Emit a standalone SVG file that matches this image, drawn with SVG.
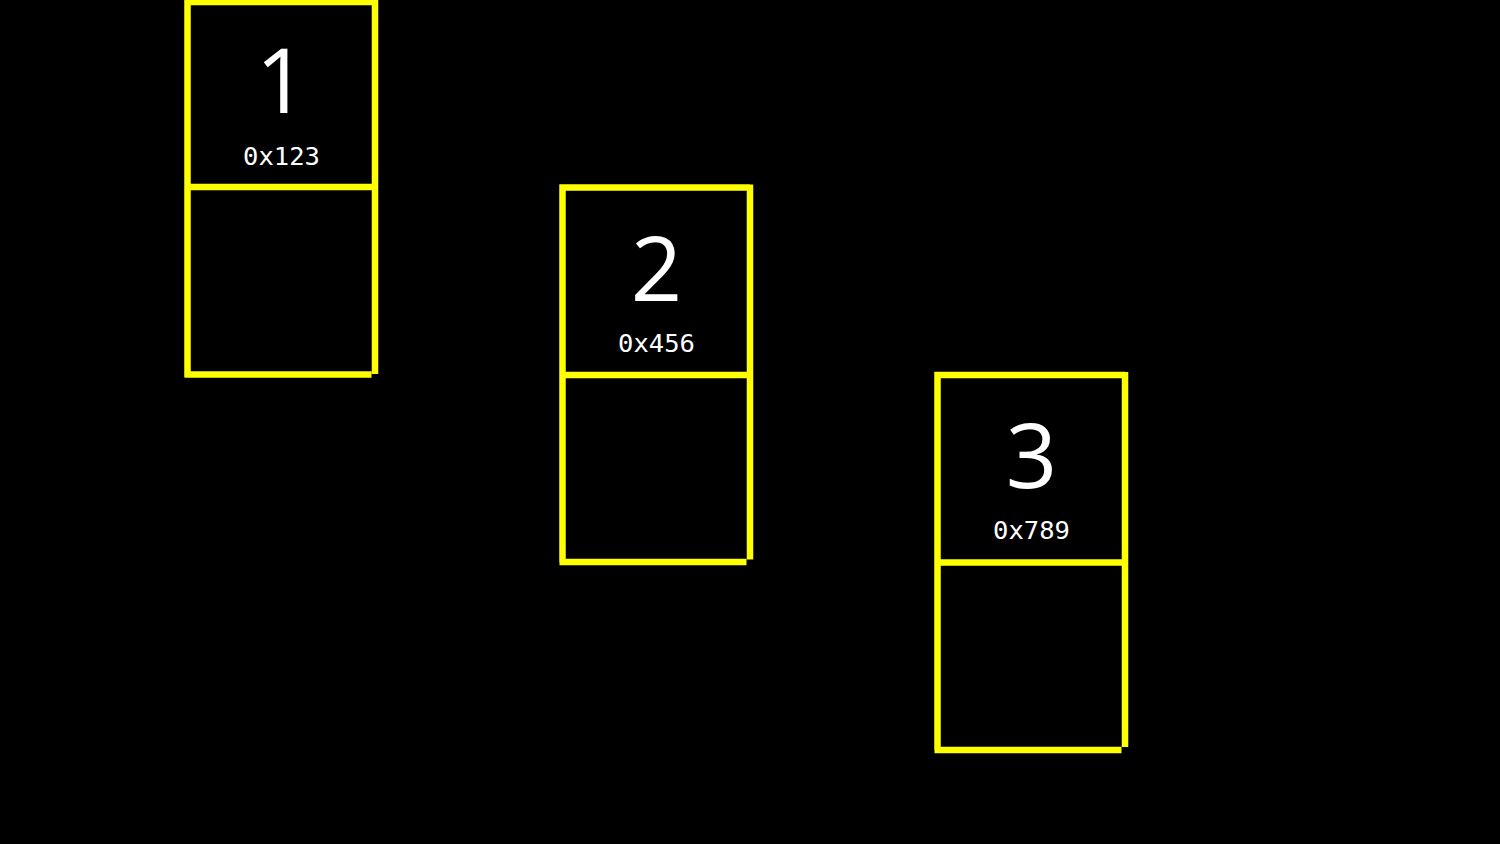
<svg xmlns="http://www.w3.org/2000/svg" width="1500" height="844" viewBox="0 0 1500 844">
<style>
.ln{stroke:#ffff00;stroke-width:6.5;fill:none;stroke-linecap:butt}
.big{fill:#fff;font-family:"Open Sans","Noto Sans",sans-serif;font-size:90px;text-anchor:middle}
.addr{fill:#fff;font-family:"DejaVu Sans Mono","Liberation Mono",monospace;font-size:25.5px;text-anchor:middle}
</style>
<rect width="1500" height="844" fill="#000"/>
<g id="node1" transform="translate(187.5,2)">
<path class="ln" d="M0,-3V375M-3,0H187.5M187.5,-3V372M-3,372.5H184M0,185H187.5"/>
<text class="big" x="94" y="111">1</text>
<text class="addr" x="94" y="163">0x123</text>
</g>
<g id="node2" transform="translate(562.5,187.5)">
<path class="ln" d="M0,-3V375M-3,0H187.5M187.5,-3V372M-3,374.5H184M0,187.5H187.5"/>
<text class="big" x="94" y="113">2</text>
<text class="addr" x="94" y="164">0x456</text>
</g>
<g id="node3" transform="translate(937.5,375)">
<path class="ln" d="M0,-3V375M-3,0H187.5M187.5,-3V372M-3,375H184M0,187.5H187.5"/>
<text class="big" x="94" y="113">3</text>
<text class="addr" x="94" y="164">0x789</text>
</g>
<g id="connectors"></g>
</svg>
